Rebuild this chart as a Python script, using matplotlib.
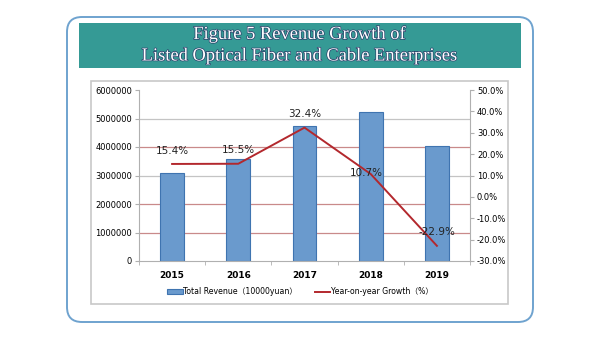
import numpy as np
import matplotlib.pyplot as plt
import matplotlib.patheffects as pe
from matplotlib.patches import FancyBboxPatch, Rectangle

# DATA
years = ["2015", "2016", "2017", "2018", "2019"]
revenue = [3080000, 3580000, 4740000, 5240000, 4050000]
growth = [15.4, 15.5, 32.4, 10.7, -22.9]
growth_labels = ["15.4%", "15.5%", "32.4%", "10.7%", "-22.9%"]
left_ticks = [0, 1000000, 2000000, 3000000, 4000000, 5000000, 6000000]
right_ticks = [-30, -20, -10, 0, 10, 20, 30, 40, 50]

W, H = 600, 338


def fx(px):
    return px / W


def fy(py):
    return (H - py) / H


fig = plt.figure(figsize=(6, 3.38), dpi=100)
fig.patch.set_facecolor("white")

# outer rounded frame
frame = FancyBboxPatch((fx(67), fy(322)), fx(533) - fx(67), fy(17) - fy(322),
                       boxstyle="round,pad=0,rounding_size=0.025",
                       transform=fig.transFigure, facecolor="white",
                       edgecolor="#6fa3cf", linewidth=1.4, mutation_aspect=W / H, zorder=-3)
fig.patches.append(frame)

# title banner
banner = Rectangle((fx(79), fy(68)), fx(521) - fx(79), fy(23) - fy(68),
                   transform=fig.transFigure, facecolor="#359a95", edgecolor="none", zorder=-2)
fig.patches.append(banner)
title_fx = [pe.withStroke(linewidth=1.0, foreground="#2a3f6a")]
fig.text(0.5, fy(34), "Figure 5 Revenue Growth of", ha="center", va="center",
         fontsize=13.3, family="Liberation Serif", color="white", path_effects=title_fx)
fig.text(0.5, fy(56), "Listed Optical Fiber and Cable Enterprises", ha="center", va="center",
         fontsize=13.3, family="Liberation Serif", color="white", path_effects=title_fx)

# gray chart box
box = Rectangle((fx(91), fy(304)), fx(508) - fx(91), fy(81) - fy(304),
                transform=fig.transFigure, facecolor="white", edgecolor="#c8c8c8",
                linewidth=1.2, zorder=-2)
fig.patches.append(box)

ax = fig.add_axes([fx(139), fy(261), fx(470) - fx(139), fy(90) - fy(261)])
ax.set_facecolor("none")
x = np.arange(len(years))

# gridlines
for t in left_ticks[1:-1]:
    c = "#c98a8a" if t in (1000000, 2000000, 4000000) else "#c4c4c4"
    ax.axhline(t, color=c, linewidth=0.9, zorder=0)

bars = ax.bar(x, revenue, width=0.36, color="#6a9acd", edgecolor="#3f74b0",
              linewidth=0.8, zorder=2, label="Total Revenue\uff0810000yuan\uff09")
ax.set_xlim(-0.5, 4.5)
ax.set_ylim(0, 6000000)
ax.set_yticks(left_ticks)
ax.set_yticklabels([str(t) for t in left_ticks])
ax.set_xticks(x)
ax.set_xticklabels(years, fontweight="bold")
ax.set_xticks(np.arange(-0.5, 5, 1), minor=True)
ax.tick_params(axis="x", which="major", length=0, labelsize=6.5, pad=7)
ax.tick_params(axis="x", which="minor", length=3, color="#b0b0b0")
ax.tick_params(axis="y", labelsize=6, length=3, color="#b0b0b0", pad=2)
for s in ["top", "right"]:
    ax.spines[s].set_visible(False)
for s in ["left", "bottom"]:
    ax.spines[s].set_color("#b0b0b0")

ax2 = ax.twinx()
line, = ax2.plot(x, growth, color="#b3282d", linewidth=1.4, zorder=3,
                 label="Year-on-year Growth\uff08%\uff09")
ax2.set_ylim(-30, 50)
ax2.set_yticks(right_ticks)
ax2.set_yticklabels(["%.1f%%" % t for t in right_ticks])
ax2.tick_params(axis="y", labelsize=6, length=3, color="#b0b0b0", pad=2)
for s in ["top", "left", "bottom"]:
    ax2.spines[s].set_visible(False)
ax2.spines["right"].set_color("#b0b0b0")

label_offsets = [(0, 6), (0, 6), (0, 6), (-3, -3), (0, 6)]
for xi, g, lab, off in zip(x, growth, growth_labels, label_offsets):
    ax2.annotate(lab, (xi, g), xytext=off, textcoords="offset points",
                 ha="center", va="bottom", fontsize=7.5, color="#222222", zorder=4)

fig.legend(handles=[bars, line], loc="center", bbox_to_anchor=(0.5, fy(292)),
           ncol=2, frameon=False, handlelength=2.0, handleheight=0.6,
           columnspacing=2.2, handletextpad=0.1,
           prop={"family": ["DejaVu Sans", "Noto Sans CJK SC"], "size": 5.6})

fig.savefig("out.png", dpi=100)
